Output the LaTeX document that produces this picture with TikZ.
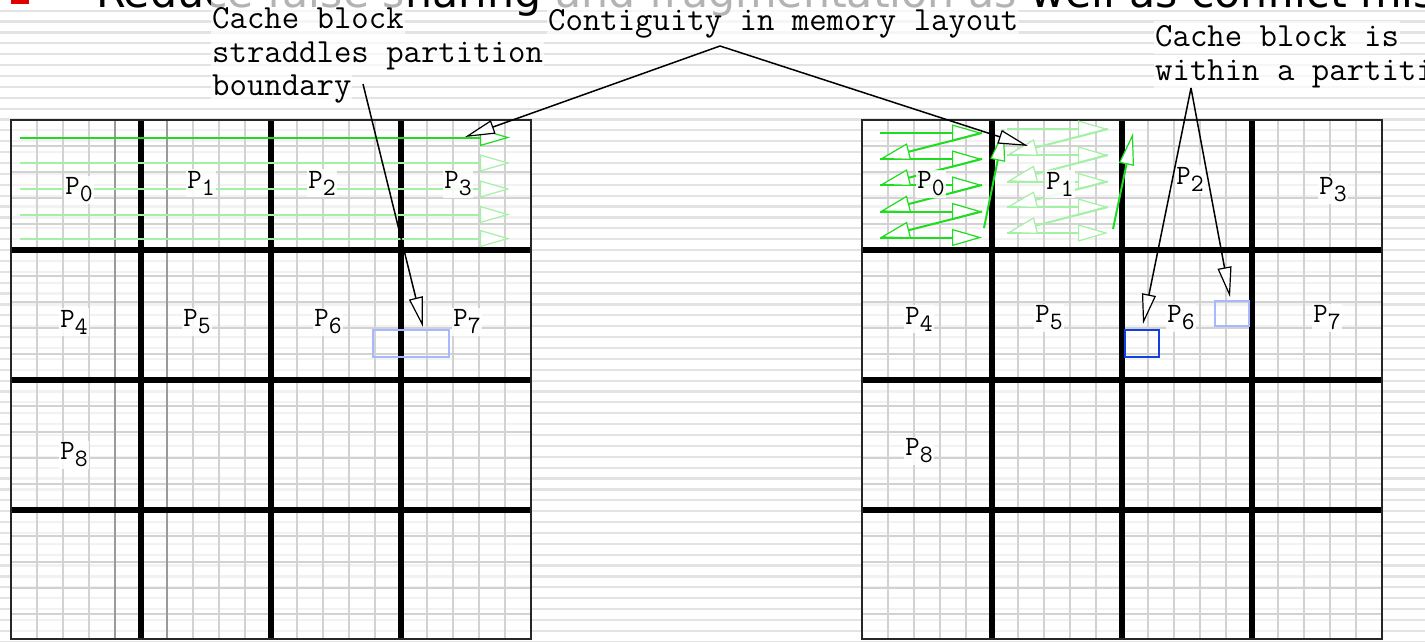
\documentclass[tikz,border=0pt]{standalone}
\usepackage{fontspec}
\usetikzlibrary{arrows.meta}
\newfontfamily\titlefam{DejaVu Sans}
\definecolor{stripec}{HTML}{E3E3E3}
\definecolor{fineg}{HTML}{D2D2D2}
\definecolor{midg}{HTML}{9A9A9A}
\definecolor{gbright}{HTML}{1EDC1E}
\definecolor{glight}{HTML}{A4F0A4}
\definecolor{lblue}{HTML}{A8B8FF}
\definecolor{dblue}{HTML}{1040E0}
\definecolor{bulletred}{HTML}{E00000}
\newcommand\notefont{\ttfamily\fontsize{33.8}{34}\selectfont}
\newcommand\plfont{\ttfamily\fontsize{28}{28}\selectfont}
\newcommand\Ps[1]{P\raisebox{-7pt}{\fontsize{25}{25}\selectfont#1}}
\newcommand\partgrid[1]{%
  \fill[white, fill opacity=0.55] (#1,120) rectangle ++(520,519);
  \foreach \k in {1,...,19} {
    \draw[fine] ({#1+26*\k},120) -- ++(0,519);
    \draw[fine] (#1,{120+26*\k}) -- ++(520,0);
  }
}
\newcommand\partlines[1]{%
  \foreach \k in {1,2,3} {
    \draw[partline] ({#1+130*\k},120) -- ++(0,519);
    \draw[partline] (#1,{120+130*\k}) -- ++(520,0);
  }
  \draw[border] (#1,120) rectangle ++(520,519);
}
\begin{document}
\begin{tikzpicture}[x=1pt,y=-1pt,
  stripeline/.style={draw=stripec, line width=2.2pt},
  fine/.style={draw=fineg, line width=1.6pt},
  partline/.style={draw=black, line width=6.5pt},
  border/.style={draw=black!85, line width=2pt},
  garrow/.style={line width=2pt, -{Triangle[length=30pt,width=17pt,fill=white,line width=1.2pt]}},
  uparrow/.style={line width=2pt, -{Triangle[length=32pt,width=15pt,fill=white,line width=1.2pt]}},
  barrow/.style={line width=1.5pt, draw=black, -{Triangle[length=30pt,width=14pt,fill=white,line width=1.2pt]}},
  note/.style={font=\notefont, fill=white, fill opacity=0.7, text opacity=1, inner xsep=1pt, inner ysep=0pt, text height=25pt, text depth=8pt, anchor=base west},
  plabel/.style={font=\plfont, fill=white, fill opacity=0.85, text opacity=1, inner sep=1.5pt}
]
\useasboundingbox (0,0) rectangle (1425,641);
\clip (0,0) rectangle (1425,641);
\fill[white] (0,0) rectangle (1425,641);
% background stripes
\foreach \k in {1,...,59} {
  \draw[stripeline] (0,{-0.18+10.88*\k}) -- (1425,{-0.18+10.88*\k});
}
% title and bullet
\fill[bulletred] (11,-15) rectangle (29,3.5);
\node[anchor=base west, inner sep=0pt, font={\titlefam\fontsize{42.7}{50}\selectfont}] (title) at (96,7.5) {Reduce false sharing and fragmentation as well as conflict misses};
% grids
\partgrid{11}
\partgrid{862}
\draw[draw=midg, line width=1.6pt] (115,120) -- (115,639);
\draw[draw=midg, line width=1.6pt] (167,120) -- (167,639);
\partlines{11}
\partlines{862}
% green arrows, left grid
\draw[garrow, gbright] (20,137.5) -- (510,137.5);
\foreach \y in {163,189,214.5,238.5} {
  \draw[garrow, glight] (20,\y) -- (510,\y);
}
% green arrows, right grid P1 (light)
\foreach \y in {129,155,181.5,207,233} {
  \draw[garrow, glight] (1007,\y) -- (1108,\y);
}
\draw[garrow, glight] (1108,129) -- (1007,155);
\draw[garrow, glight] (1108,155) -- (1007,181.5);
\draw[garrow, glight] (1108,181.5) -- (1007,207);
\draw[garrow, glight] (1108,207) -- (1007,233);
% green arrows, right grid P0 (bright)
\foreach \y in {133,159,185,211.5,237.5} {
  \draw[garrow, gbright] (880,\y) -- (982,\y);
}
\draw[garrow, gbright] (982,133) -- (880,159);
\draw[garrow, gbright] (982,159) -- (880,185);
\draw[garrow, gbright] (982,185) -- (880,211.5);
\draw[garrow, gbright] (982,211.5) -- (880,237.5);
\draw[uparrow, gbright] (984,228) -- (1004,129);
\draw[uparrow, gbright] (1113,229) -- (1133,133);
% cache blocks
\draw[draw=lblue, line width=1.5pt] (373,330) rectangle (449,357);
\draw[draw=lblue, line width=1.5pt] (1215,301) rectangle (1249,326);
\draw[draw=dblue, line width=2pt] (1125,330) rectangle (1159,357);
% partition labels, left
\node[plabel] (L0) at (79,190) {\Ps0};
\node[plabel] (L1) at (201,183) {\Ps1};
\node[plabel] (L2) at (322,183) {\Ps2};
\node[plabel] (L3) at (458,184) {\Ps3};
\node[plabel] (L4) at (74,322) {\Ps4};
\node[plabel] (L5) at (197,322) {\Ps5};
\node[plabel] (L6) at (328,322) {\Ps6};
\node[plabel] (L7) at (467,322) {\Ps7};
\node[plabel] (L8) at (74,455) {\Ps8};
% partition labels, right
\node[plabel] (R0) at (931,184) {\Ps0};
\node[plabel] (R1) at (1060,184) {\Ps1};
\node[plabel] (R2) at (1190,179) {\Ps2};
\node[plabel] (R3) at (1333,190) {\Ps3};
\node[plabel] (R4) at (919,319) {\Ps4};
\node[plabel] (R5) at (1049,318) {\Ps5};
\node[plabel] (R6) at (1181,318) {\Ps6};
\node[plabel] (R7) at (1327,318) {\Ps7};
\node[plabel] (R8) at (919,451) {\Ps8};
% annotations
\node[note, text height=30pt] (cb1) at (211,28) {Cache block};
\node[note] (cb2) at (211,62) {straddles partition};
\node[note, text height=24pt] (cb3) at (211,95) {boundary};
\node[note, text height=32pt] (contig) at (547,30) {Contiguity in memory layout};
\node[note] (wp1) at (1154,46) {Cache block is};
\node[note] (wp2) at (1154,80) {within a partition};
% annotation arrows
\coordinate (bstart) at (363,84);
\coordinate (btip) at (423,327);
\coordinate (capex) at (720,46);
\coordinate (ctipL) at (465,137);
\coordinate (ctipR) at (1028,146);
\coordinate (wapex) at (1191,88);
\coordinate (wtipL) at (1143,324);
\coordinate (wtipR) at (1230,297);
\draw[barrow] (bstart) -- (btip);
\draw[barrow] (capex) -- (ctipL);
\draw[barrow] (capex) -- (ctipR);
\draw[barrow] (wapex) -- (wtipL);
\draw[barrow] (wapex) -- (wtipR);
\end{tikzpicture}
\end{document}
